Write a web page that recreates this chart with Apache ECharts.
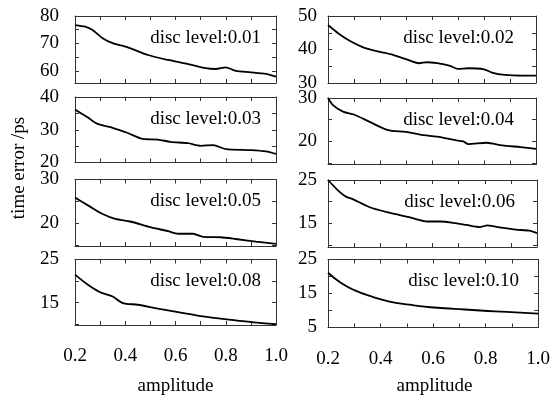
<!DOCTYPE html>
<html>
<head>
<meta charset="utf-8">
<script src="https://cdn.jsdelivr.net/npm/echarts@6/dist/echarts.min.js"></script>
<style>
  html, body { margin: 0; padding: 0; background: #fff; }
  #chart { width: 553px; height: 396px; }
</style>
</head>
<body>
<div id="chart"></div>
<script>
// Time error versus amplitude, one panel per discrimination level
const discLevels = ['0.01', '0.02', '0.03', '0.04', '0.05', '0.06', '0.08', '0.10'];

const amp001 = [0.20, 0.24, 0.27, 0.31, 0.35, 0.41, 0.49, 0.57, 0.65, 0.72, 0.76, 0.80, 0.84, 0.90, 0.96, 1.00];
const te001  = [76.7, 76.1, 74.9, 71.9, 70.1, 68.6, 65.8, 64.0, 62.5, 61.0, 60.7, 61.3, 60.0, 59.5, 58.9, 57.9];

const amp002 = [0.20, 0.24, 0.29, 0.34, 0.40, 0.45, 0.50, 0.55, 0.58, 0.62, 0.67, 0.70, 0.74, 0.80, 0.83, 0.88, 0.95, 1.00];
const te002  = [47.3, 44.8, 42.3, 40.5, 39.3, 38.4, 37.1, 35.9, 36.2, 35.9, 35.1, 34.2, 34.4, 34.1, 33.1, 32.4, 32.2, 32.2];

const amp003 = [0.20, 0.25, 0.29, 0.35, 0.41, 0.47, 0.53, 0.58, 0.65, 0.70, 0.75, 0.80, 0.90, 0.96, 1.00];
const te003  = [36.2, 33.8, 31.8, 30.6, 29.0, 27.2, 27.0, 26.3, 25.9, 25.1, 25.3, 24.1, 23.8, 23.4, 22.6];

const amp004 = [0.20, 0.22, 0.26, 0.30, 0.36, 0.43, 0.50, 0.56, 0.62, 0.69, 0.72, 0.74, 0.81, 0.87, 0.94, 1.00];
const te004  = [30.0, 28.3, 26.8, 26.2, 24.5, 22.6, 22.2, 21.5, 21.1, 20.3, 20.0, 19.4, 19.7, 19.1, 18.7, 18.3];

const amp005 = [0.20, 0.26, 0.31, 0.36, 0.42, 0.50, 0.57, 0.61, 0.67, 0.71, 0.78, 0.84, 0.92, 1.00];
const te005  = [25.9, 23.8, 22.1, 21.0, 20.4, 19.1, 18.2, 17.6, 17.6, 16.9, 16.8, 16.4, 15.8, 15.3];

const amp006 = [0.20, 0.24, 0.27, 0.29, 0.36, 0.43, 0.51, 0.58, 0.63, 0.68, 0.73, 0.78, 0.81, 0.87, 0.92, 0.97, 1.00];
const te006  = [25.0, 22.5, 21.1, 20.7, 18.7, 17.5, 16.4, 15.4, 15.4, 15.1, 14.6, 14.1, 14.5, 13.9, 13.5, 13.3, 12.7];

const amp008 = [0.20, 0.25, 0.30, 0.35, 0.39, 0.45, 0.53, 0.61, 0.71, 0.82, 0.91, 1.00];
const te008  = [21.5, 19.2, 17.4, 16.4, 14.9, 14.5, 13.6, 12.8, 11.8, 11.0, 10.4, 10.0];

const amp010 = [0.20, 0.25, 0.30, 0.37, 0.43, 0.51, 0.59, 0.68, 0.78, 0.88, 1.00];
const te010  = [21.1, 18.1, 16.0, 14.0, 12.7, 11.7, 10.95, 10.5, 10.0, 9.6, 9.1];

// y-axis extents (min, max) of each panel
const yMin = [55.6, 30, 20, 14.7, 14.8, 9.5, 9.8, 5];
const yMax = [80, 50, 40, 30, 30, 25, 25, 25];

const ampSets = [amp001, amp002, amp003, amp004, amp005, amp006, amp008, amp010];
const teSets  = [te001, te002, te003, te004, te005, te006, te008, te010];

// panel boxes in pixels: [left, top, right, bottom]
const boxes = [
  [75, 16, 276, 83],    [328, 16, 536, 83],
  [75, 97, 276, 162.5], [328, 98, 536, 164.5],
  [75, 179.5, 276, 246],[328, 180, 537, 247],
  [75, 259.5, 276, 325],[328, 259.5, 541, 327.5]
];

const W = 553, H = 396;
const FONT = "'Liberation Serif', 'Times New Roman', serif";
const FS = 19;
const FRAME = '#333';

const grids = [], xAxes = [], yAxes = [], series = [], graphics = [];

boxes.forEach((b, i) => {
  const [l, t, r, btm] = b;
  grids.push({ left: l, top: t, width: r - l, height: btm - t, containLabel: false, show: false });
  const bottomRow = i >= 6;
  const leftCol = i % 2 === 0;

  const xBase = {
    type: 'value', gridIndex: i, min: 0.2, max: 1.0, interval: 0.1,
    axisLine: { show: true, onZero: false, lineStyle: { color: FRAME, width: 1 } },
    axisTick: { show: true, inside: true, length: 4, lineStyle: { color: FRAME, width: 1 } },
    splitLine: { show: false }
  };
  xAxes.push(Object.assign({}, xBase, {
    position: 'bottom',
    axisLabel: {
      show: bottomRow, margin: 22, color: '#000', fontFamily: FONT, fontSize: FS,
      formatter: v => (Math.round(v * 10) % 2 === 0 ? v.toFixed(1) : '')
    }
  }));
  xAxes.push(Object.assign({}, xBase, { position: 'top', axisLabel: { show: false } }));

  const mx = yMax[i];
  const yBase = {
    type: 'value', gridIndex: i, min: yMin[i], max: mx, minInterval: 5, maxInterval: 5,
    axisLine: { show: true, onZero: false, lineStyle: { color: FRAME, width: 1 } },
    axisTick: { show: true, inside: true, length: 4, lineStyle: { color: FRAME, width: 1 } },
    splitLine: { show: false }
  };
  yAxes.push(Object.assign({}, yBase, {
    position: 'left',
    axisLabel: {
      show: true, margin: leftCol ? 16 : 11, color: '#000', fontFamily: FONT, fontSize: FS,
      showMinLabel: true, showMaxLabel: true,
      formatter: v => {
        const d = Math.round((mx - v) * 1000) / 1000;
        return d % 10 === 0 ? String(v) : '';
      }
    }
  }));
  yAxes.push(Object.assign({}, yBase, { position: 'right', axisLabel: { show: false } }));

  series.push({
    type: 'line', xAxisIndex: 2 * i, yAxisIndex: 2 * i,
    data: ampSets[i].map((a, k) => [a, teSets[i][k]]),
    showSymbol: false, smooth: i === 7 ? 0.5 : 0.25,
    lineStyle: { color: '#000', width: 1.8 },
    clip: true, silent: true
  });

  // panel caption, right-aligned inside the box
  graphics.push({
    type: 'text', x: r - (leftCol ? 15 : 22), y: t + 22,
    style: { text: 'disc level:' + discLevels[i], fill: '#000', font: FS + 'px ' + FONT,
             textAlign: 'right', textVerticalAlign: 'middle' }
  });
});

// shared axis titles
graphics.push({
  type: 'text', x: 19, y: 168, rotation: Math.PI / 2,
  style: { text: 'time error /ps', fill: '#000', font: FS + 'px ' + FONT,
           textAlign: 'center', textVerticalAlign: 'middle' }
});
graphics.push({
  type: 'text', x: (boxes[6][0] + boxes[6][2]) / 2, y: 386,
  style: { text: 'amplitude', fill: '#000', font: FS + 'px ' + FONT,
           textAlign: 'center', textVerticalAlign: 'middle' }
});
graphics.push({
  type: 'text', x: (boxes[7][0] + boxes[7][2]) / 2, y: 386,
  style: { text: 'amplitude', fill: '#000', font: FS + 'px ' + FONT,
           textAlign: 'center', textVerticalAlign: 'middle' }
});

const chart = echarts.init(document.getElementById('chart'), null, { renderer: 'canvas', width: W, height: H });
chart.setOption({
  animation: false,
  backgroundColor: '#fff',
  grid: grids,
  xAxis: xAxes,
  yAxis: yAxes,
  series: series,
  graphic: graphics
});
</script>
</body>
</html>
